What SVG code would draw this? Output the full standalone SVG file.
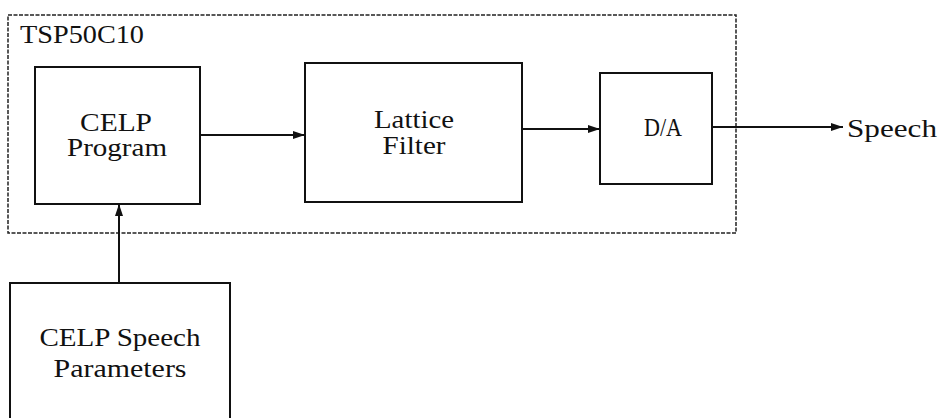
<svg xmlns="http://www.w3.org/2000/svg" width="938" height="418" viewBox="0 0 938 418">
<style>
.box{fill:none;stroke:#111;stroke-width:2}
.t{font-family:"Liberation Serif","DejaVu Serif",serif;font-size:25px;fill:#111}
.c{stroke:#111;stroke-width:2;fill:none}
</style>
<defs>
<marker id="ah" viewBox="0 0 12 8" refX="12" refY="4" markerWidth="12" markerHeight="8" markerUnits="userSpaceOnUse" orient="auto">
<path d="M0,0 L12,4 L0,8 Z" fill="#111"/>
</marker>
</defs>
<rect width="938" height="418" fill="#fff"/>
<g id="container">
<rect x="8" y="15" width="728" height="218" fill="none" stroke="#222" stroke-width="1.5" stroke-dasharray="4 1.5"/>
<text class="t" x="20" y="43" textLength="124" lengthAdjust="spacingAndGlyphs">TSP50C10</text>
</g>
<g id="celp-program">
<rect class="box" x="35" y="67" width="165" height="137"/>
<text class="t" x="116" y="131" text-anchor="middle" textLength="72" lengthAdjust="spacingAndGlyphs">CELP</text>
<text class="t" x="117" y="156" text-anchor="middle" textLength="100" lengthAdjust="spacingAndGlyphs">Program</text>
</g>
<g id="lattice-filter">
<rect class="box" x="305" y="63" width="217" height="139"/>
<text class="t" x="414" y="128" text-anchor="middle" textLength="80" lengthAdjust="spacingAndGlyphs">Lattice</text>
<text class="t" x="414" y="154" text-anchor="middle" textLength="63" lengthAdjust="spacingAndGlyphs">Filter</text>
</g>
<g id="da">
<rect class="box" x="600" y="73" width="112" height="111"/>
<text class="t" x="663" y="136" text-anchor="middle" textLength="38" lengthAdjust="spacingAndGlyphs">D/A</text>
</g>
<g id="speech">
<text class="t" x="847" y="137" textLength="90" lengthAdjust="spacingAndGlyphs">Speech</text>
</g>
<g id="celp-params">
<path class="box" d="M10,418 V283 H230 V418"/>
<text class="t" x="120" y="346" text-anchor="middle" textLength="161" lengthAdjust="spacingAndGlyphs">CELP Speech</text>
<text class="t" x="120" y="377" text-anchor="middle" textLength="133" lengthAdjust="spacingAndGlyphs">Parameters</text>
</g>
<g id="connectors">
<line class="c" x1="200" y1="135" x2="305" y2="135" marker-end="url(#ah)"/>
<line class="c" x1="522" y1="129" x2="600" y2="129" marker-end="url(#ah)"/>
<line class="c" x1="712" y1="127" x2="843" y2="127" marker-end="url(#ah)"/>
<line class="c" x1="119" y1="283" x2="119" y2="204" marker-end="url(#ah)"/>
</g>
</svg>
